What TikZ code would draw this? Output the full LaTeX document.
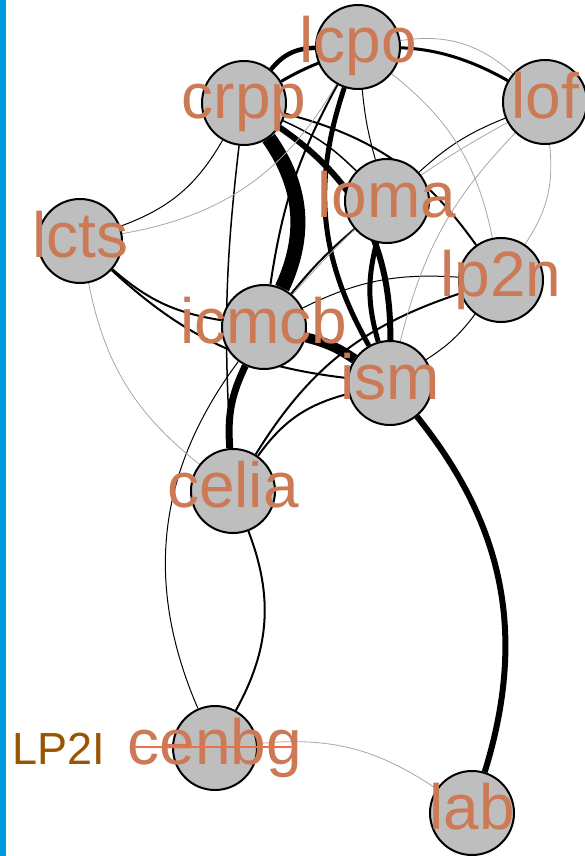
\documentclass[tikz,border=0pt]{standalone}
\usepackage{fontspec}
\setmainfont{Liberation Sans}
\pgfdeclarelayer{bg}
\pgfsetlayers{bg,main}
\definecolor{nodegray}{RGB}{190,190,190}
\definecolor{labelcol}{RGB}{204,122,86}
\definecolor{lptwoicol}{RGB}{153,85,0}
\definecolor{strikecol}{RGB}{236,112,72}
\definecolor{barblue}{RGB}{0,155,222}

\begin{document}
\begin{tikzpicture}[x=1pt,y=1pt,main node/.style={circle,draw,line width=2pt,fill=nodegray,minimum size=84pt,inner sep=0pt},name label/.style={anchor=base,inner sep=0pt,text=labelcol,font=\fontsize{64}{64}\selectfont},faint/.style={line width=0.8pt,draw=black!35},thin link/.style={line width=1pt}]
    \useasboundingbox (0,0) rectangle (585,-856);
    \fill[barblue] (0,0) rectangle (6,-856);

    \node[main node] (lcpo) at (358,-47) {};
    \node[main node] (crpp) at (244,-103) {};
    \node[main node] (lof) at (545,-102) {};
    \node[main node] (loma) at (387,-201) {};
    \node[main node] (lcts) at (80,-241) {};
    \node[main node] (lp2n) at (501,-280) {};
    \node[main node] (icmcb) at (264,-327) {};
    \node[main node] (ism) at (390,-383) {};
    \node[main node] (celia) at (233,-491) {};
    \node[main node] (cenbg) at (215,-748) {};
    \node[main node] (lab) at (472,-813) {};

    \begin{pgfonlayer}{bg}
    \path
        (crpp) edge[line width=15pt,bend left=30] (icmcb)
        (icmcb) edge[line width=10pt,bend left=10] (ism)
        (crpp) edge[line width=6pt,bend left=28] (ism)
        (lcpo) edge[line width=5pt,bend right=24] (ism)
        (loma) edge[line width=5pt,bend right=15] (ism)
        (ism) edge[line width=6pt,bend left=28] (lab)
        (icmcb) edge[line width=7pt,bend right=15] (celia)
        (crpp) edge[line width=4.5pt,bend left=25] (lcpo)
        (crpp) edge[line width=3pt,bend left=30] (lof)
        (crpp) edge[line width=2pt,bend left=20] (lp2n)
        (crpp) edge[line width=1.5pt,bend left=10] (loma)
        (crpp) edge[line width=1.5pt,bend right=5] (celia)
        (lcpo) edge[line width=2pt,bend right=10] (icmcb)
        (lcpo) edge[thin link,bend right=5] (loma)
        (lof) edge[thin link,bend right=10] (loma)
        (loma) edge[line width=2pt,bend right=5] (icmcb)
        (icmcb) edge[thin link,bend left=15] (lp2n)
        (celia) edge[line width=2pt,bend left=20] (lp2n)
        (celia) edge[line width=2pt,bend left=20] (ism)
        (lcts) edge[line width=2pt,bend right=16] (icmcb)
        (lcts) edge[line width=2pt,bend right=18] (ism)
        (lcts) edge[thin link,bend right=20] (crpp)
        (celia) edge[line width=2pt,bend left=25] (cenbg)
        (icmcb) edge[thin link,bend right=30] (cenbg)
        (ism) edge[thin link,bend right=10] (lp2n);
    \path[faint]
        (lcpo) edge[bend left=25] (lof)
        (lcpo) edge[bend left=20] (lp2n)
        (lof) edge[bend left=20] (lp2n)
        (lof) edge[bend right=10] (icmcb)
        (ism) edge[bend left=15] (lof)
        (lcts) edge[bend right=25] (lcpo)
        (lcts) edge[bend right=20] (celia)
        (cenbg) edge[bend left=20] (lab);
    \end{pgfonlayer}

    % labels above the circles
    \node[name label] (l-lcpo) at ([yshift=-16pt]lcpo.center) {lcpo};
    \node[name label] (l-crpp) at ([yshift=-16pt]crpp.center) {crpp};
    \node[name label] (l-lof) at ([yshift=-16pt]lof.center) {lof};
    \node[name label] (l-loma) at ([yshift=-16pt]loma.center) {loma};
    \node[name label] (l-lcts) at ([yshift=-16pt]lcts.center) {lcts};
    \node[name label] (l-lp2n) at ([yshift=-16pt]lp2n.center) {lp2n};
    \node[name label] (l-icmcb) at ([yshift=-16pt]icmcb.center) {icmcb};
    \node[name label] (l-ism) at ([yshift=-16pt]ism.center) {ism};
    \node[name label] (l-celia) at ([yshift=-16pt]celia.center) {celia};
    \node[name label] (l-cenbg) at ([yshift=-16pt]cenbg.center) {cenbg};
    \node[name label] (l-lab) at ([yshift=-16pt]lab.center) {lab};

    \node[anchor=base west,inner sep=0pt,text=lptwoicol,font=\fontsize{45}{45}\selectfont] (lp2i) at (12,-764) {LP2I};
    \draw[strikecol,line width=2.5pt,shorten <=6pt,shorten >=6pt] ([yshift=17pt]l-cenbg.base west) -- ([yshift=17pt]l-cenbg.base east);
\end{tikzpicture}
\end{document}
